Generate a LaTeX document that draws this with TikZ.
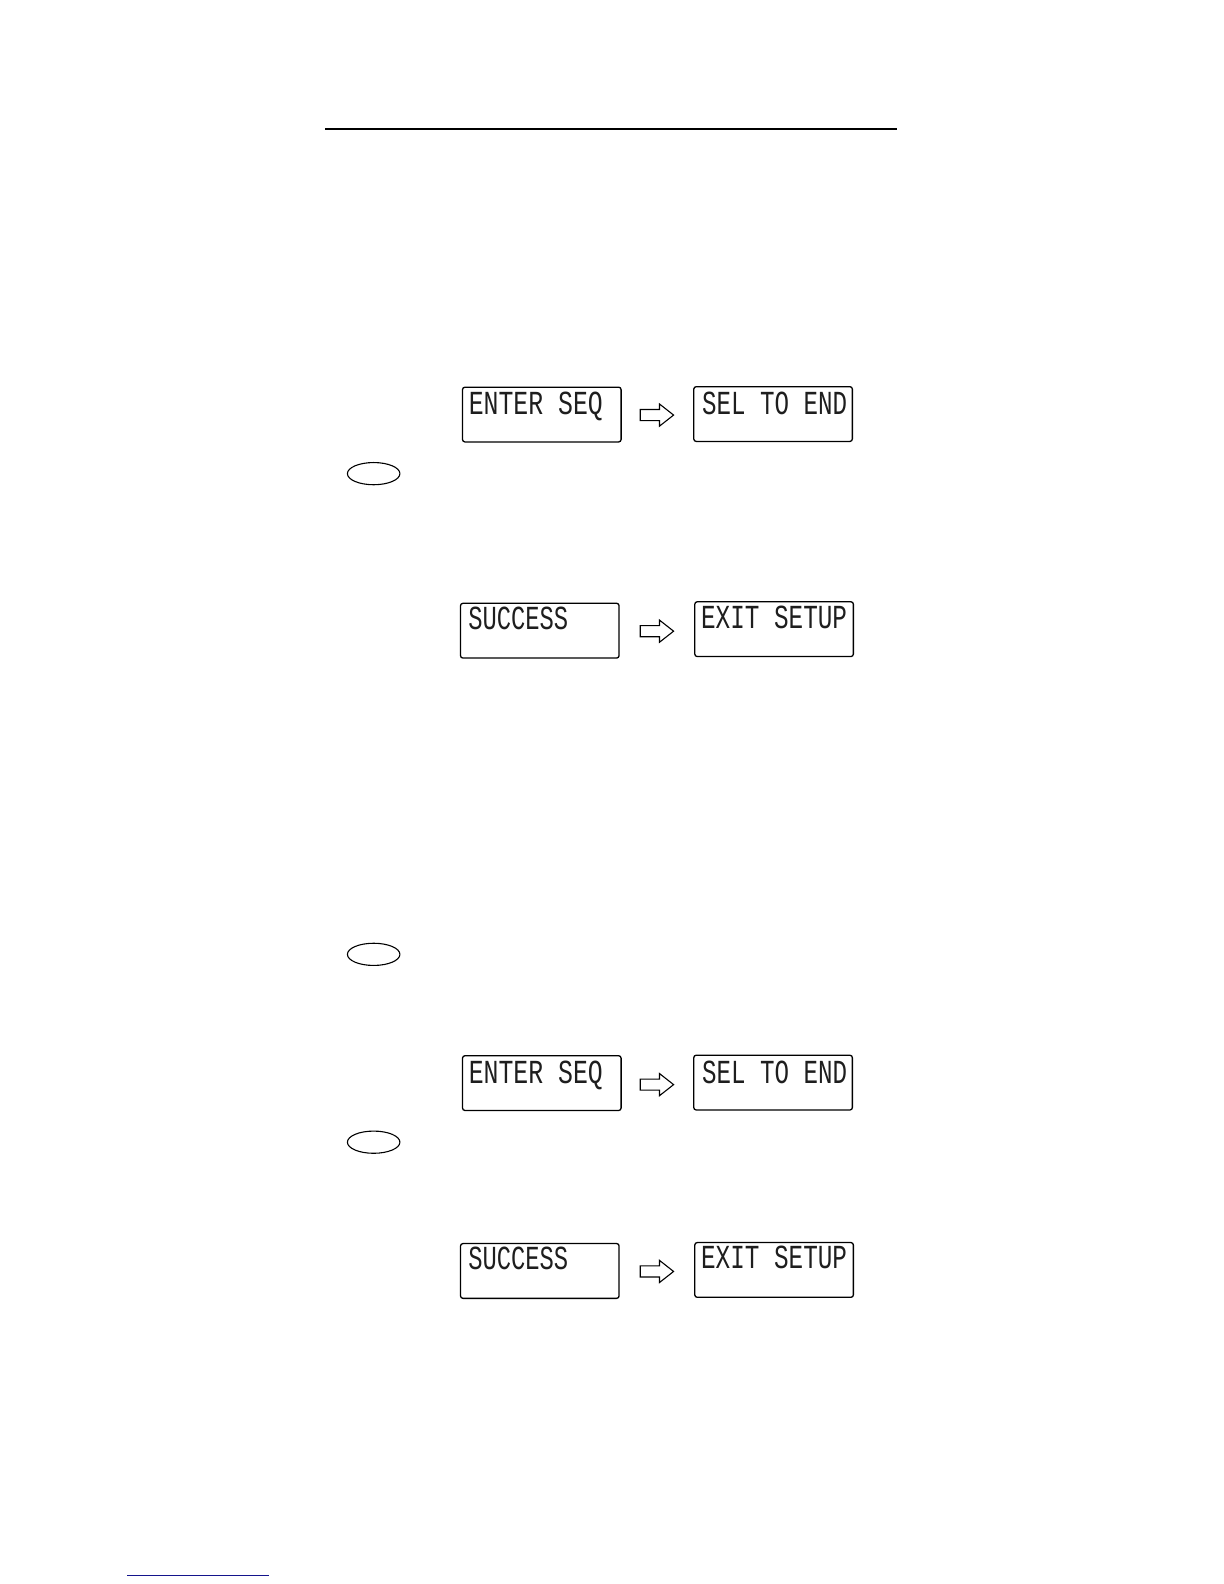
\documentclass[tikz,border=0pt]{standalone}
\usepackage{fontspec}
\usepackage{graphicx}
\newfontfamily\lcdfont{Liberation Mono}
\usetikzlibrary{shapes.geometric}
\definecolor{linkblue}{RGB}{20,20,140}
\definecolor{lcdink}{RGB}{30,30,30}
\tikzset{
  lcdbox/.style={draw, line width=1.3bp, rounded corners=2.5bp, minimum width=158.6bp, minimum height=54.8bp, inner sep=0pt},
  lcdtext/.style={anchor=north west, inner sep=0pt, font=\lcdfont, text=lcdink},
  keyoval/.style={draw, ellipse, line width=1.1bp, minimum width=52.5bp, minimum height=22.2bp, inner sep=0pt},
  blockarr/.style={draw, line width=1.1bp, line join=miter}
}
\newcommand{\lcdstr}[2]{\resizebox{#1}{22.5bp}{#2}}
\newcommand{\blockarrow}[1]{%
  \draw[blockarr] (634,#1-5.5) -- (653,#1-5.5) -- (653,#1-11) -- (667,#1) -- (653,#1+11) -- (653,#1+5.5) -- (634,#1+5.5) -- cycle;}
\begin{document}
\begin{tikzpicture}[x=1.0099bp,y=-1.0099bp]
\useasboundingbox (0,0) rectangle (1212,1568.5);
\fill[white] (0,0) rectangle (1212,1568.5);
% top rule
\draw[line width=2.2bp] (322,128) -- (888,128);
% group 1
\node[lcdbox] (b1) at (536.5,410.5) {};
\node[lcdbox] (b2) at (765.5,410) {};
\node[lcdtext] (t1) at (464,388) {\lcdstr{134bp}{ENTER SEQ}};
\node[lcdtext] (t2) at (695,388) {\lcdstr{145bp}{SEL TO END}};
\blockarrow{411}
\node[keyoval] (k1) at (370,469) {};
% group 2
\node[lcdbox] (b3) at (534.5,624.5) {};
\node[lcdbox] (b4) at (766.5,623) {};
\node[lcdtext] (t3) at (463.5,601) {\lcdstr{100bp}{SUCCESS}};
\node[lcdtext] (t4) at (694,600) {\lcdstr{146bp}{EXIT SETUP}};
\blockarrow{625}
% group 3
\node[keyoval] (k2) at (370,945) {};
\node[lcdbox] (b5) at (536.5,1072.5) {};
\node[lcdbox] (b6) at (765.5,1072) {};
\node[lcdtext] (t5) at (464,1050) {\lcdstr{134bp}{ENTER SEQ}};
\node[lcdtext] (t6) at (695,1050) {\lcdstr{145bp}{SEL TO END}};
\blockarrow{1074}
\node[keyoval] (k3) at (370,1131) {};
% group 4
\node[lcdbox] (b7) at (534.5,1258.5) {};
\node[lcdbox] (b8) at (766.5,1257.5) {};
\node[lcdtext] (t7) at (463.5,1235) {\lcdstr{100bp}{SUCCESS}};
\node[lcdtext] (t8) at (694,1234) {\lcdstr{146bp}{EXIT SETUP}};
\blockarrow{1259}
% bottom link line
\draw[linkblue, line width=1bp] (126,1560) -- (266.5,1560);
\end{tikzpicture}
\end{document}
